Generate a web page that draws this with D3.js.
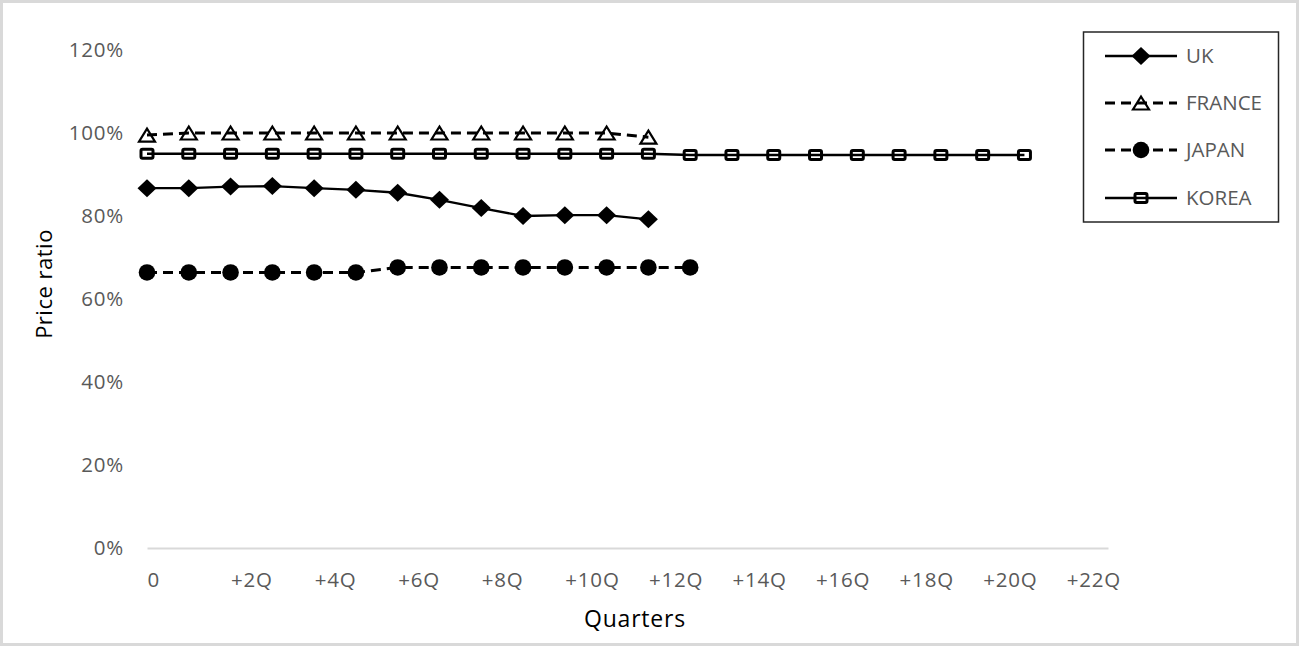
<!DOCTYPE html>
<html>
<head>
<meta charset="utf-8">
<script src="https://cdn.jsdelivr.net/npm/d3@7"></script>
<style>
  html, body { margin: 0; padding: 0; background: #fff; }
  svg { display: block; }
</style>
</head>
<body>
<svg id="chart" width="1299" height="646"></svg>
<script>
// ---- data ----
const categories = [0,1,2,3,4,5,6,7,8,9,10,11,12,13,14,15,16,17,18,19,20,21,22,23];
const tickValues = [0,2,4,6,8,10,12,14,16,18,20,22];
const tickLabels = ["0","+2Q","+4Q","+6Q","+8Q","+10Q","+12Q","+14Q","+16Q","+18Q","+20Q","+22Q"];
const yTicks = [0, 0.2, 0.4, 0.6, 0.8, 1.0, 1.2];
const seriesNames = ["UK","FRANCE","JAPAN","KOREA"];
const uk     = [0.867,0.867,0.871,0.872,0.867,0.863,0.856,0.839,0.819,0.800,0.802,0.802,0.792];
const france = [0.995,1.0,1.0,1.0,1.0,1.0,1.0,1.0,1.0,1.0,1.0,1.0,0.99];
const japan  = [0.664,0.664,0.664,0.664,0.664,0.664,0.676,0.676,0.676,0.676,0.676,0.676,0.676,0.676];
const korea  = [0.95,0.95,0.95,0.95,0.95,0.95,0.95,0.95,0.95,0.95,0.95,0.95,0.95,
                0.947,0.947,0.947,0.947,0.947,0.947,0.947,0.947,0.947];

// ---- setup ----
const svg = d3.select("#chart");
const W = 1299, H = 646;
const m = {left: 147, right: 1108, top: 50, bottom: 548};
const font = "'Open Sans', 'DejaVu Sans', sans-serif";

svg.append("rect").attr("x", 1.5).attr("y", 1.5).attr("width", W - 3).attr("height", H - 3)
  .attr("fill", "#fff").attr("stroke", "#d9d9d9").attr("stroke-width", 3);

const x = d3.scaleLinear().domain([categories[0], categories[categories.length - 1]]).range([m.left, m.right]);
const y = d3.scaleLinear().domain([0, 1.2]).range([m.bottom, m.top]);

// y axis
const yAxis = svg.append("g").attr("transform", `translate(${m.left},0)`)
  .call(d3.axisLeft(y).tickValues(yTicks).tickFormat(d3.format(".0%")).tickSize(0).tickPadding(23));
yAxis.select(".domain").remove();
yAxis.selectAll("text").attr("font-family", font).attr("font-size", 20.5)
  .attr("letter-spacing", 0.8).attr("fill", "#595959");

// x axis
const xAxis = svg.append("g").attr("transform", `translate(0,${m.bottom})`)
  .call(d3.axisBottom(x).tickValues(tickValues).tickFormat((d, i) => tickLabels[i]).tickSize(0).tickPadding(24));
xAxis.select(".domain").attr("stroke", "#d9d9d9").attr("stroke-width", 2);
xAxis.selectAll("text").attr("font-family", font).attr("font-size", 20.5)
  .attr("letter-spacing", 0.8).attr("fill", "#595959").attr("text-anchor", "start");

// axis titles
svg.append("text").attr("transform", "translate(52,284) rotate(-90)")
  .attr("text-anchor", "middle").attr("font-family", font).attr("font-size", 22)
  .attr("letter-spacing", 0.5).attr("fill", "#000").text("Price ratio");
svg.append("text").attr("x", 635).attr("y", 627)
  .attr("text-anchor", "middle").attr("font-family", font).attr("font-size", 23)
  .attr("letter-spacing", 0.8).attr("fill", "#000").text("Quarters");

// markers
function drawMarker(g, type, cx, cy) {
  if (type === "diamond") {
    g.append("path").attr("d", `M${cx},${cy-9}L${cx+9.5},${cy}L${cx},${cy+9}L${cx-9.5},${cy}Z`).attr("fill", "#000");
  } else if (type === "triangle") {
    g.append("path").attr("d", `M${cx},${cy-6.5}L${cx+8},${cy+6.5}L${cx-8},${cy+6.5}Z`)
      .attr("fill", "none").attr("stroke", "#000").attr("stroke-width", 2.2).attr("stroke-linejoin", "miter");
  } else if (type === "circle") {
    g.append("circle").attr("cx", cx).attr("cy", cy).attr("r", 8.3).attr("fill", "#000");
  } else if (type === "square") {
    g.append("rect").attr("x", cx - 6).attr("y", cy - 4.5).attr("width", 12).attr("height", 9)
      .attr("rx", 1.5).attr("fill", "none").attr("stroke", "#000").attr("stroke-width", 3);
  }
}

const series = [
  {name: seriesNames[0], values: uk,     dash: null,   width: 2.3, marker: "diamond"},
  {name: seriesNames[1], values: france, dash: "10,6", width: 3,   marker: "triangle"},
  {name: seriesNames[2], values: japan,  dash: "10,6", width: 3,   marker: "circle"},
  {name: seriesNames[3], values: korea,  dash: null,   width: 2.3, marker: "square"}
];

const line = d3.line().x((d, i) => x(categories[i])).y(d => y(d));

series.forEach(s => {
  const g = svg.append("g");
  g.append("path").datum(s.values).attr("d", line).attr("fill", "none")
    .attr("stroke", "#000").attr("stroke-width", s.width)
    .attr("stroke-dasharray", s.dash);
  s.values.forEach((v, i) => drawMarker(g, s.marker, x(categories[i]), y(v)));
});

// legend
const lg = svg.append("g");
lg.append("rect").attr("x", 1083.5).attr("y", 32).attr("width", 195).attr("height", 190)
  .attr("fill", "#fff").attr("stroke", "#262626").attr("stroke-width", 1.5);
const legY = [56, 103, 150, 198];
series.forEach((s, i) => {
  const gy = legY[i];
  lg.append("line").attr("x1", 1105).attr("x2", 1177).attr("y1", gy).attr("y2", gy)
    .attr("stroke", "#000").attr("stroke-width", s.width).attr("stroke-dasharray", s.dash);
  drawMarker(lg, s.marker, 1141, gy);
  lg.append("text").attr("x", 1186).attr("y", gy).attr("dy", "0.35em")
    .attr("font-family", font).attr("font-size", 20.5).attr("fill", "#595959").text(s.name);
});
</script>
</body>
</html>
